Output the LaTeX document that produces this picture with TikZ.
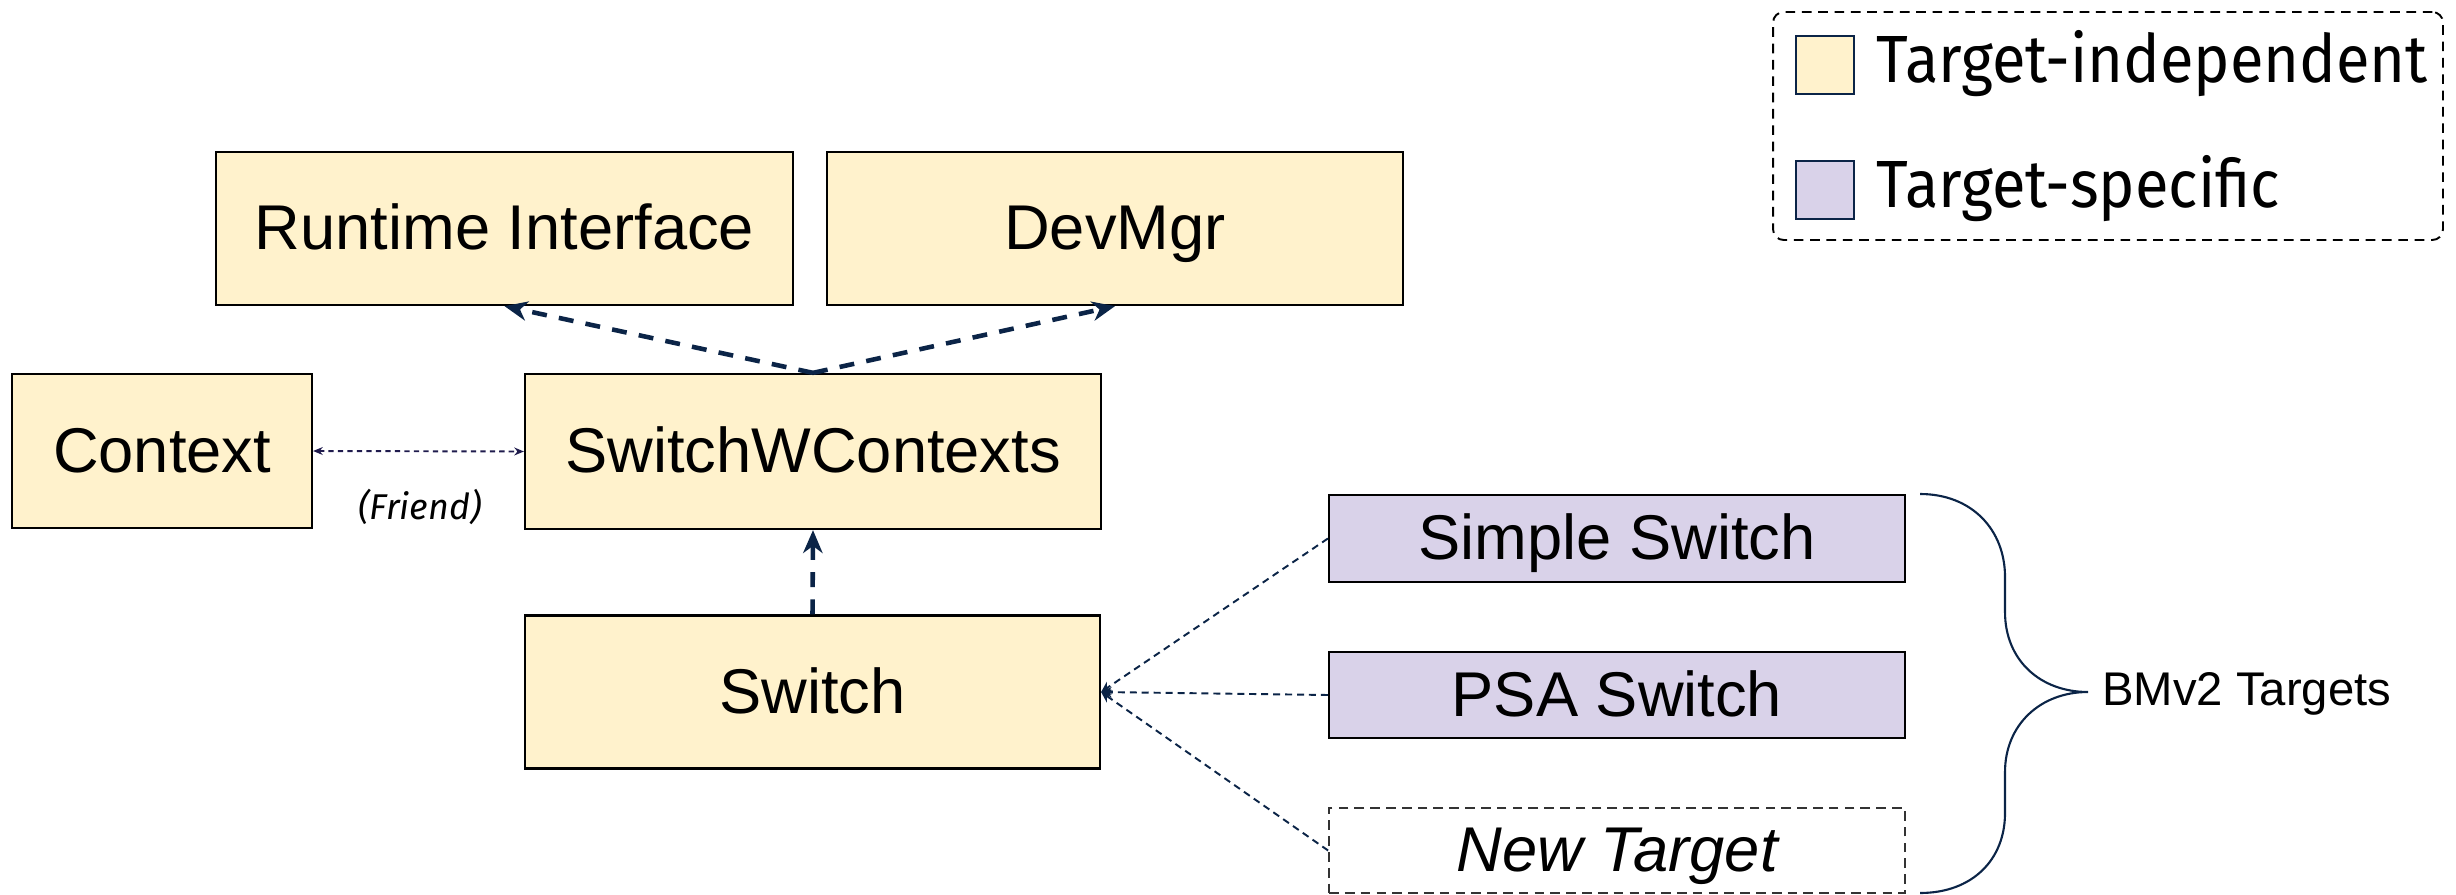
\documentclass[tikz,border=0pt]{standalone}
\usepackage{fontspec}
\setmainfont{Liberation Sans}
\newfontfamily\legendfont[FakeStretch=0.92]{Fira Sans}
\newfontfamily\notefont{Fira Sans}
\usetikzlibrary{arrows.meta}

\definecolor{tiyellow}{HTML}{FFF2CC}
\definecolor{tspurple}{HTML}{D9D2E9}
\definecolor{linknavy}{HTML}{0B2447}
\definecolor{friendnavy}{HTML}{1F1B4D}
\definecolor{ghostgray}{HTML}{333333}

\tikzset{
  box/.style={draw=black, line width=1.3pt, inner sep=0pt,
    font=\fontsize{36}{40}\selectfont, text height=24pt, text depth=0pt},
  indep/.style={box, fill=tiyellow},
  specific/.style={box, fill=tspurple},
  ghostbox/.style={draw=ghostgray, line width=1.1pt, fill=white, inner sep=0pt,
    dash pattern=on 5.5pt off 3.5pt, font=\fontsize{36}{40}\selectfont\itshape,
    text height=24pt, text depth=0pt},
  inherit/.style={draw=linknavy, line width=2.6pt, dash pattern=on 8.5pt off 7pt,
    -{Stealth[length=13pt,width=11pt,inset=4pt]}},
  friendlink/.style={draw=friendnavy, line width=1.1pt, dash pattern=on 3pt off 2.4pt,
    {Stealth[length=5.5pt,width=4.5pt,inset=1.8pt]}-{Stealth[length=5.5pt,width=4.5pt,inset=1.8pt]}},
  targetlink/.style={draw=linknavy, line width=1.1pt, dash pattern=on 4pt off 2.8pt,
    -{Stealth[length=6pt,width=6pt,inset=2pt]}},
  swatch/.style={draw=linknavy, line width=1.3pt, inner sep=0pt,
    minimum width=1.16cm, minimum height=1.16cm},
  legendtext/.style={font=\legendfont\fontsize{38}{42}\selectfont, inner sep=0pt, anchor=base west},
}

\begin{document}
\begin{tikzpicture}[x=0.02cm, y=-0.02cm]
  \useasboundingbox (0,0) rectangle (2456,895);

  % target-independent classes
  \node[indep, minimum width=11.54cm, minimum height=3.06cm] (rt)  at (504.5,228.5) {Runtime Interface};
  \node[indep, minimum width=11.52cm, minimum height=3.06cm] (dev) at (1115,228.5) {DevMgr};
  \node[indep, minimum width=6.0cm,   minimum height=3.08cm] (ctx) at (162,451) {Context};
  \node[indep, minimum width=11.52cm, minimum height=3.10cm] (swc) at (813,451.5) {SwitchWContexts};
  \node[indep, minimum width=11.5cm,  minimum height=3.06cm] (sw)  at (812.5,692) {Switch};

  % target-specific classes
  \node[specific, minimum width=11.52cm, minimum height=1.74cm] (ss)  at (1617,538.5) {Simple Switch};
  \node[specific, minimum width=11.52cm, minimum height=1.72cm] (psa) at (1617,695) {PSA Switch};
  \node[ghostbox, minimum width=11.52cm, minimum height=1.70cm] (nt)  at (1617,850.5) {New Target};

  % inheritance links
  \draw[inherit] (swc.north) -- (rt.south);
  \draw[inherit] (swc.north) -- (dev.south);
  \draw[inherit] (sw.north) -- (swc.south);

  % friendship between Context and SwitchWContexts
  \draw[friendlink] (ctx.east) -- (swc.west);
  \node[font=\notefont\itshape\fontsize{20.4}{24}\selectfont, inner sep=0pt] (friend) at (420,507) {(Friend)};

  % targets derived from Switch
  \draw[targetlink] (ss.west)  -- (sw.east);
  \draw[targetlink] (psa.west) -- (sw.east);
  \draw[targetlink] (nt.west)  -- (sw.east);

  % curly brace grouping the targets
  \draw[linknavy, line width=1.2pt]
    (1920,494) .. controls (1972,494) and (2005,530) .. (2005,577)
    -- (2005,612) .. controls (2005,660) and (2040,692) .. (2088,692)
    .. controls (2040,692) and (2005,725) .. (2005,772)
    -- (2005,813) .. controls (2005,860) and (1972,893) .. (1920,893);
  \node[font=\fontsize{26.9}{30}\selectfont, inner sep=0pt, anchor=west] (bmv2) at (2102,694) {BMv2 Targets};

  % legend
  \node[draw=black, line width=1.1pt, dash pattern=on 5.5pt off 3.8pt, rounded corners=6pt,
        minimum width=13.4cm, minimum height=4.56cm, inner sep=0pt] (legend) at (2108,126) {};
  \node[swatch, fill=tiyellow] (swy) at (1825,65) {};
  \node[swatch, fill=tspurple] (swp) at (1825,190) {};
  \node[legendtext] (ly) at (1876,83)  {Target-independent};
  \node[legendtext] (lp) at (1876,208) {Target-specific};
\end{tikzpicture}
\end{document}
